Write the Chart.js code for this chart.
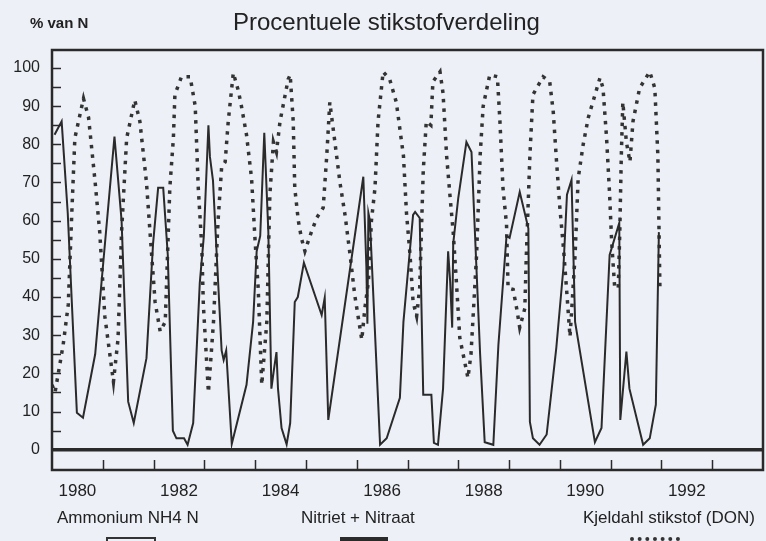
<!DOCTYPE html>
<html lang="nl">
<head>
    <meta charset="UTF-8">
    <title>Procentuele stikstofverdeling</title>
    <script src="https://cdn.jsdelivr.net/npm/chart.js"></script>
    <style>
        body {
            margin: 0;
            background: #edf0f7;
            font-family: "Liberation Sans", Arial, sans-serif;
            color: #222;
        }
        #wrap {
            position: relative;
            width: 766px;
            height: 541px;
            overflow: hidden;
        }
        #chart {
            position: absolute;
            left: 0;
            top: 0;
        }
        .txt {
            position: absolute;
            white-space: nowrap;
        }
        .sample {
            position: absolute;
            top: 537px;
            height: 10px;
        }
    </style>
</head>
<body>
<div id="wrap">
    <canvas id="chart" width="766" height="541"></canvas>
    <div class="txt" style="left:30px; top:14px; font-size:15px; font-weight:bold;">% van N</div>
    <div class="txt" style="left:233px; top:8px; font-size:24px;">Procentuele stikstofverdeling</div>
    <div class="txt" style="left:57px; top:508px; font-size:17px;">Ammonium NH4 N</div>
    <div class="txt" style="left:301px; top:508px; font-size:17px;">Nitriet + Nitraat</div>
    <div class="txt" style="left:583px; top:508px; font-size:17px;">Kjeldahl stikstof (DON)</div>
    <div class="sample" style="left:106px; width:46px; border:2px solid #333;"></div>
    <div class="sample" style="left:340px; width:48px; background:#2a2a2a;"></div>
    <div class="sample" style="left:630px; width:50px; border-top:4px dotted #333; height:0;"></div>
</div>

<script>
    // Ammonium NH4 N (solid line)
    const ammoniumYears = [
        1980.05, 1980.19, 1980.31, 1980.49, 1980.61, 1980.85, 1981.00, 1981.23, 1981.37, 1981.50,
        1981.61, 1981.86, 1981.99, 1982.09, 1982.19, 1982.28, 1982.38, 1982.45, 1982.60, 1982.67,
        1982.78, 1982.91, 1982.99, 1983.08, 1983.11, 1983.17, 1983.24, 1983.34, 1983.38, 1983.43,
        1983.54, 1983.83, 1983.96, 1984.03, 1984.10, 1984.18, 1984.26, 1984.32, 1984.37, 1984.42,
        1984.45, 1984.52, 1984.62, 1984.69, 1984.78, 1984.84, 1984.96, 1985.31, 1985.37, 1985.44,
        1986.13, 1986.19, 1986.21, 1986.23, 1986.26, 1986.46, 1986.59, 1986.85, 1986.92, 1987.11,
        1987.15, 1987.24, 1987.31, 1987.47, 1987.52, 1987.60, 1987.70, 1987.80, 1987.84, 1987.88,
        1987.90, 1988.00, 1988.16, 1988.26, 1988.43, 1988.52, 1988.69, 1988.79, 1988.95, 1989.01,
        1989.21, 1989.38, 1989.41, 1989.47, 1989.60, 1989.74, 1989.93, 1990.07, 1990.14, 1990.23,
        1990.30, 1990.69, 1990.82, 1990.98, 1991.17, 1991.19, 1991.31, 1991.37, 1991.64, 1991.77,
        1991.89, 1991.95
    ];
    const ammoniumValues = [
        82.5, 86, 62, 9.7, 8.4, 25, 47.6, 82, 60, 12.6,
        7, 24, 54, 68.6, 68.6, 51, 5, 3, 3, 1.3,
        7, 43.7, 56, 85, 76.7, 70.5, 52, 26, 23.5, 26,
        1.5, 17, 33.5, 52, 56, 83, 57, 16, 21, 25.6,
        16, 5.7, 1.4, 7, 38.7, 40, 49, 35.3, 39.8, 7.8,
        71.5, 48, 33, 62, 60, 1.3, 3, 13.6, 33.5, 61.5,
        62.3, 60.7, 14.4, 14.4, 1.8, 1.3, 16, 52, 44, 32,
        54, 66, 80.6, 78, 25, 2, 1.3, 27.5, 56, 55.5,
        67.5, 58, 7.3, 3, 1.3, 4, 26.7, 47.6, 66.8, 70.7,
        33.5, 2, 5.7, 51, 59.4, 7.8, 25.7, 16, 1.3, 3,
        11.8, 57
    ];

    // Kjeldahl stikstof (DON) (dotted line)
    const kjeldahlYears = [
        1980.00, 1980.06, 1980.22, 1980.32, 1980.39, 1980.45, 1980.62, 1980.72, 1980.85, 1980.94,
        1981.04, 1981.21, 1981.30, 1981.37, 1981.47, 1981.63, 1981.73, 1981.86, 1981.93, 1982.03,
        1982.13, 1982.23, 1982.32, 1982.39, 1982.42, 1982.55, 1982.72, 1982.82, 1982.88, 1982.95,
        1982.98, 1983.08, 1983.18, 1983.27, 1983.34, 1983.41, 1983.47, 1983.57, 1983.67, 1983.73,
        1983.83, 1983.93, 1984.00, 1984.06, 1984.13, 1984.23, 1984.29, 1984.36, 1984.42, 1984.49,
        1984.65, 1984.69, 1984.75, 1984.78, 1984.85, 1984.91, 1984.98, 1985.08, 1985.21, 1985.34,
        1985.41, 1985.47, 1985.57, 1985.67, 1985.77, 1985.87, 1985.96, 1986.10, 1986.16, 1986.23,
        1986.29, 1986.36, 1986.42, 1986.52, 1986.65, 1986.78, 1986.92, 1986.98, 1987.05, 1987.11,
        1987.18, 1987.24, 1987.31, 1987.37, 1987.46, 1987.50, 1987.64, 1987.70, 1987.77, 1987.84,
        1987.90, 1987.97, 1988.03, 1988.19, 1988.25, 1988.36, 1988.43, 1988.49, 1988.62, 1988.77,
        1988.82, 1988.88, 1988.95, 1988.98, 1989.08, 1989.15, 1989.21, 1989.31, 1989.34, 1989.41,
        1989.47, 1989.67, 1989.80, 1989.87, 1989.93, 1990.00, 1990.07, 1990.13, 1990.20, 1990.30,
        1990.36, 1990.46, 1990.56, 1990.79, 1990.85, 1990.92, 1990.98, 1991.02, 1991.08, 1991.15,
        1991.18, 1991.21, 1991.24, 1991.31, 1991.38, 1991.44, 1991.57, 1991.77, 1991.87, 1991.93,
        1991.97
    ];
    const kjeldahlValues = [
        17, 15, 27.5, 38, 62, 81.6, 92, 87, 70, 57,
        35, 17.8, 29, 57, 81.6, 91.6, 86, 70, 57, 38.7,
        31, 33.5, 68.6, 81.6, 93, 97.7, 97.7, 90, 68.6, 53,
        38, 15, 33.5, 60, 74, 75.4, 86, 98.7, 94, 90,
        82.5, 71, 54.5, 42.4, 17, 33.5, 66.8, 80.6, 78, 86,
        97, 98.2, 86, 68.6, 60, 55.5, 52, 56, 60.7, 63.4,
        77, 91, 80.6, 70, 61.5, 51, 40.6, 28.8, 37, 44,
        60, 68.6, 86, 99, 97, 91, 77, 62, 51, 38.7,
        35, 42.4, 73, 86, 85, 96.4, 99, 93.4, 77, 66,
        57, 42.4, 29.3, 18.8, 25, 51, 77, 90, 98.2, 97.7,
        86, 68.6, 59, 42.4, 42, 37, 32, 37, 51, 77,
        93, 97.7, 96.4, 88.5, 76.4, 63.4, 53, 42.4, 29.6, 51,
        71, 80, 87, 97.4, 94.7, 81.6, 66.8, 54.5, 42.4, 42.4,
        57, 77, 91, 80.6, 75.4, 86, 94.7, 99, 94.7, 77,
        42.4
    ];

    const yearLabels = [1980, 1982, 1984, 1986, 1988, 1990, 1992];
    const yTicks = [0, 10, 20, 30, 40, 50, 60, 70, 80, 90, 100];

    const ink = '#2a2a2a';
    const toPoints = (xs, ys) => xs.map((x, i) => ({ x: x, y: ys[i] }));

    // frame plus the small inward tick marks of the original
    const framePlugin = {
        id: 'frame',
        afterDraw(chart) {
            const { ctx, chartArea: a, scales } = chart;
            ctx.save();
            ctx.strokeStyle = ink;
            ctx.lineWidth = 1.5;
            for (let yr = 1981; yr <= 1993; yr++) {
                const x = Math.round(scales.x.getPixelForValue(yr)) + 0.5;
                ctx.beginPath();
                ctx.moveTo(x, a.bottom);
                ctx.lineTo(x, a.bottom - 10);
                ctx.stroke();
            }
            for (let v = 5; v <= 100; v += 5) {
                const y = Math.round(scales.y.getPixelForValue(v)) + 0.5;
                ctx.beginPath();
                ctx.moveTo(a.left, y);
                ctx.lineTo(a.left + 9, y);
                ctx.stroke();
            }
            ctx.lineWidth = 2.5;
            ctx.strokeRect(a.left, a.top, a.right - a.left, a.bottom - a.top);
            ctx.restore();
        }
    };

    new Chart(document.getElementById('chart'), {
        type: 'line',
        data: {
            datasets: [
                {
                    label: 'Ammonium NH4 N',
                    data: toPoints(ammoniumYears, ammoniumValues),
                    borderColor: ink,
                    borderWidth: 2,
                    pointRadius: 0,
                    tension: 0
                },
                {
                    label: 'Kjeldahl stikstof (DON)',
                    data: toPoints(kjeldahlYears, kjeldahlValues),
                    borderColor: '#333',
                    borderWidth: 3.5,
                    borderDash: [3.5, 6],
                    pointRadius: 0,
                    tension: 0
                }
            ]
        },
        options: {
            responsive: false,
            animation: false,
            devicePixelRatio: 1,
            layout: { padding: { left: 0, right: 3, top: 50, bottom: 26 } },
            plugins: {
                legend: { display: false },
                title: { display: false },
                tooltip: { enabled: false }
            },
            scales: {
                x: {
                    type: 'linear',
                    min: 1980,
                    max: 1994,
                    afterFit: s => { s.height = 45; },
                    afterBuildTicks: s => { s.ticks = yearLabels.map(y => ({ value: y + 0.5 })); },
                    grid: { display: false },
                    border: { display: false },
                    ticks: {
                        autoSkip: false,
                        maxRotation: 0,
                        padding: 3,
                        color: '#222',
                        font: { family: '"Liberation Sans", Arial, sans-serif', size: 17 },
                        callback: v => String(Math.floor(v))
                    }
                },
                y: {
                    min: -5.3,
                    max: 104.7,
                    afterFit: s => { s.width = 52; },
                    afterBuildTicks: s => { s.ticks = yTicks.map(v => ({ value: v })); },
                    border: { display: false },
                    grid: {
                        drawTicks: false,
                        color: c => c.tick && c.tick.value === 0 ? ink : 'rgba(0,0,0,0)',
                        lineWidth: c => c.tick && c.tick.value === 0 ? 3.5 : 0
                    },
                    ticks: {
                        padding: 12,
                        color: '#222',
                        font: { family: '"Liberation Sans", Arial, sans-serif', size: 16 }
                    }
                }
            }
        },
        plugins: [framePlugin]
    });
</script>
</body>
</html>
